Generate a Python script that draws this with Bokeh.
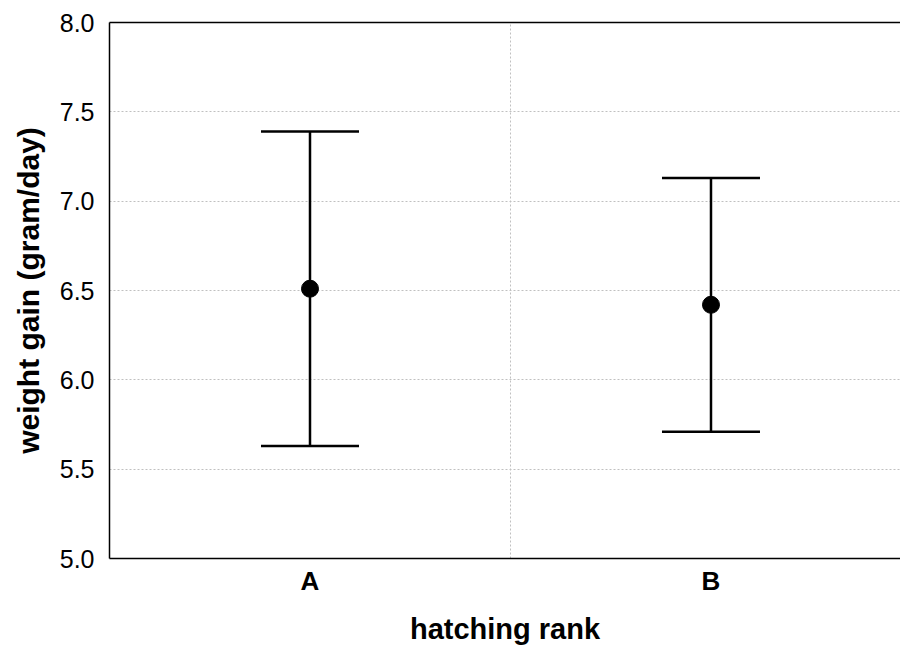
from bokeh.plotting import figure
from bokeh.models import (Range1d, FixedTicker, Whisker, TeeHead, ColumnDataSource,
                          LinearAxis, PrintfTickFormatter)
from bokeh.embed import file_html
from bokeh.resources import INLINE

categories = ["A", "B"]
means = [6.51, 6.42]
upper = [7.39, 7.13]
lower = [5.63, 5.71]
y_ticks = [5.0, 5.5, 6.0, 6.5, 7.0, 7.5, 8.0]

xpos = [i + 0.5 for i in range(len(categories))]
boundaries = [float(i) for i in range(1, len(categories))]

FONT = "Liberation Sans"

p = figure(width=900, height=648, output_backend="svg", toolbar_location=None,
           x_range=Range1d(0, 1.9726), y_range=Range1d(5.0, 8.0),
           min_border_left=109, min_border_right=0, min_border_top=22,
           min_border_bottom=90)
p.outline_line_color = None
p.background_fill_color = "white"
p.border_fill_color = "white"

src = ColumnDataSource(dict(x=xpos, mean=means, upper=upper, lower=lower))

w = Whisker(base="x", upper="upper", lower="lower", source=src,
            line_color="black", line_width=2.5,
            upper_head=TeeHead(size=98, line_color="black", line_width=2.5),
            lower_head=TeeHead(size=98, line_color="black", line_width=2.5))
p.add_layout(w)
p.scatter("x", "mean", source=src, size=17, color="black", marker="circle")

# x axis
xa = p.xaxis[0]
xa.ticker = FixedTicker(ticks=xpos)
xa.major_label_overrides = {x: c for x, c in zip(xpos, categories)}
xa.major_tick_in = 0
xa.major_tick_out = 0
xa.minor_tick_in = 0
xa.minor_tick_out = 0
xa.axis_line_width = 1.5
xa.axis_line_color = "black"
xa.major_label_text_font = FONT
xa.major_label_text_font_style = "bold"
xa.major_label_text_font_size = "26px"
xa.major_label_text_color = "black"
xa.major_label_standoff = 7
xa.axis_label = "hatching rank"
xa.axis_label_text_font = FONT
xa.axis_label_text_font_style = "bold"
xa.axis_label_text_font_size = "29px"
xa.axis_label_text_color = "black"
xa.axis_label_standoff = 14

# y axis
ya = p.yaxis[0]
ya.ticker = FixedTicker(ticks=y_ticks)
ya.formatter = PrintfTickFormatter(format="%.1f")
ya.major_tick_in = 0
ya.major_tick_out = 0
ya.minor_tick_in = 0
ya.minor_tick_out = 0
ya.axis_line_width = 1.5
ya.axis_line_color = "black"
ya.major_label_text_font = FONT
ya.major_label_text_font_size = "25px"
ya.major_label_text_color = "black"
ya.major_label_standoff = 15
ya.axis_label = "weight gain (gram/day)"
ya.axis_label_text_font = FONT
ya.axis_label_text_font_style = "bold"
ya.axis_label_text_font_size = "30px"
ya.axis_label_text_color = "black"
ya.axis_label_standoff = 12

# top border line
top = LinearAxis(ticker=FixedTicker(ticks=[]), major_tick_in=0, major_tick_out=0,
                 minor_tick_in=0, minor_tick_out=0, axis_line_width=1.5,
                 axis_line_color="black")
p.add_layout(top, "above")

# grids
p.xgrid.ticker = FixedTicker(ticks=boundaries)
p.ygrid.ticker = FixedTicker(ticks=y_ticks)
for g in (p.xgrid, p.ygrid):
    g.grid_line_color = "#c0c0c0"
    g.grid_line_dash = "2 2"
    g.grid_line_width = 1

open("out.html", "w").write(file_html(p, INLINE))
